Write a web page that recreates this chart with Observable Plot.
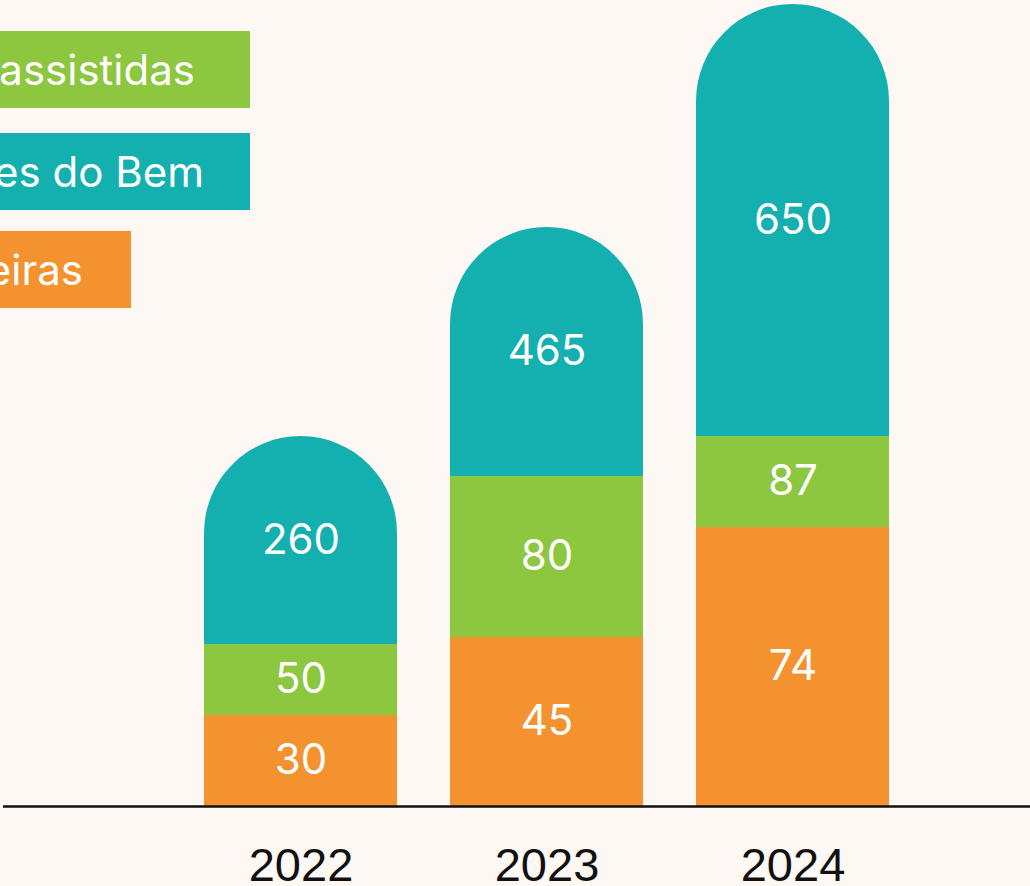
<!DOCTYPE html>
<html>
<head>
<meta charset="utf-8">
<script src="https://cdn.jsdelivr.net/npm/d3@7"></script>
<script src="https://cdn.jsdelivr.net/npm/@observablehq/plot@0.6"></script>
<style>
  html, body { margin: 0; padding: 0; background: #FDF8F4; overflow: hidden; }
  #wrap { position: relative; width: 1030px; height: 886px; }
  .leg { position: absolute; box-sizing: border-box; height: 77px; line-height: 77px;
         font-family: Inter, "Noto Sans", sans-serif; font-size: 42px; color: #fff;
         text-align: right; white-space: nowrap; overflow: hidden; }
  #chart svg { display: block; }
</style>
</head>
<body>
<div id="wrap">
  <div id="chart"></div>
  <div id="legend"></div>
</div>
<script>
// ---- data ----
const years = ["2022", "2023", "2024"];
const seriesNames = ["Empresas parceiras", "Famílias assistidas", "Doadores do Bem"];
const seriesColors = ["#F49230", "#8DC63F", "#14AFAF"];
// values shown on the bars
const parceirasValues = [30, 45, 74];
const assistidasValues = [50, 80, 87];
const doBemValues = [260, 465, 650];
// drawn segment lengths (the chart is not drawn to the printed values)
const parceirasLen = [9.1, 16.9, 27.9];
const assistidasLen = [7.1, 16.1, 9.1];
const doBemLen = [20.8, 24.9, 43.2];

const valueLists = [parceirasValues, assistidasValues, doBemValues];
const lenLists = [parceirasLen, assistidasLen, doBemLen];
const table = [];
years.forEach((year, i) => {
  seriesNames.forEach((s, j) => {
    table.push({year, series: s, value: valueLists[j][i], len: lenLists[j][i]});
  });
});
const lower = table.filter(d => d.series !== seriesNames[2]);

const chart = Plot.plot({
  width: 1030,
  height: 886,
  marginTop: 0,
  marginBottom: 80,
  marginLeft: 150,
  marginRight: 86,
  style: {background: "transparent", fontFamily: "Inter, sans-serif"},
  x: {type: "band", domain: years, padding: 0.2146, label: null},
  y: {domain: [0, 80.6], axis: null},
  color: {domain: seriesNames, range: seriesColors},
  marks: [
    // top series drawn full height with rounded top; lower series cover its base
    Plot.barY(table, Plot.groupX({y: "sum"}, {x: "year", y: "len", fill: seriesColors[2], rx: 97, ry: 97})),
    Plot.barY(lower, Plot.stackY({x: "year", y: "len", fill: "series", order: seriesNames})),
    Plot.text(table, Plot.stackY({x: "year", y: "len", z: "series", order: seriesNames, text: d => String(d.value),
      fill: "#fff", fontSize: 42, fontFamily: "Inter, sans-serif"})),
    Plot.axisX({tickSize: 0, tickPadding: 41, fontSize: 47, fontFamily: "Liberation Sans, Arial, sans-serif", fill: "#111", label: null}),
    Plot.ruleY([0], {stroke: "#111", strokeWidth: 2.6, insetLeft: -147, insetRight: -86})
  ]
});
document.getElementById("chart").appendChild(chart);

// ---- legend (cut off at the left edge as in the reference) ----
const legendItems = [
  {name: seriesNames[1], color: seriesColors[1], top: 31, right: 250, pad: 55},
  {name: seriesNames[2], color: seriesColors[2], top: 133, right: 250, pad: 46},
  {name: seriesNames[0], color: seriesColors[0], top: 231, right: 131, pad: 48}
];
const legend = document.getElementById("legend");
legendItems.forEach(it => {
  const d = document.createElement("div");
  d.className = "leg";
  d.style.top = it.top + "px";
  d.style.left = (it.right - 600) + "px";
  d.style.width = "600px";
  d.style.paddingRight = it.pad + "px";
  d.style.background = it.color;
  d.textContent = it.name;
  legend.appendChild(d);
});
</script>
</body>
</html>
